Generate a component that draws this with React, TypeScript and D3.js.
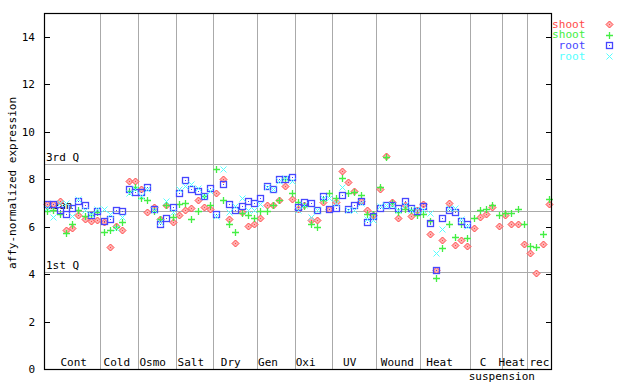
import React from "react";
import * as d3 from "d3";

const GROUPS = ["Cont", "Cold", "Osmo", "Salt", "Dry", "Gen", "Oxi", "UV", "Wound", "Heat", "C", "Heat", "rec"];
const GROUP_SIZES = [9, 6, 6, 6, 7, 6, 6, 7, 7, 8, 5, 4, 4];
const LABEL_DX = [1.5, -2.4, -4.2, -3.7, -4.5, -8, -8.1, -4.8, -1, -5.8, -3, -2.6, -0.1];
const Y_TICKS = [0, 2, 4, 6, 8, 10, 12, 14];
const Q3 = 8.65;
const Q1 = 4.1;
const MEAN = 6.64;

const _ = null;
// shoot (red diamond)
const shootA = [
  6.97, 6.97, 7.09, 5.87, 5.94, 6.47, 6.33, 6.23, 6.27,
  6.2, 5.14, 6.04, 5.85, 7.93, 7.93,
  7.6, 6.6, 6.83, 6.3, 6.93, 6.18,
  6.47, 6.72, 6.79, 7.11, 6.83, 6.76,
  7.42, 7.99, 6.3, 5.31, 6.6, 6.04, 6.13,
  6.37, 6.92, 6.9, 7.14, 7.7, 7.17,
  6.75, 6.89, 6.27, 6.27, 7.03, 6.75,
  7.03, 8.33, 7.89, 7.52, 7.07, 6.72, 6.47,
  7.6, 8.97, 7.04, 6.37, 6.93, 6.44, 6.72,
  6.97, 5.69, 4.18, 5.42, 7.0, 5.21, 5.45, 5.2,
  5.94, 6.41, 6.51, 6.83, 6.04,
  6.48, 6.11, 6.11, 5.27,
  4.89, 4.04, 5.27, 6.97,
];
// shoot (green plus)
const shootB = [
  6.65, 6.68, 6.55, 5.73, 6.11, 6.68, 6.44, 6.5, 6.6,
  5.76, 5.85, 5.99, 6.2, 7.5, 7.66,
  7.2, 7.11, 6.65, 6.3, 6.9, 6.4,
  6.95, 7.0, 6.33, 6.65, 7.28, 6.93,
  8.41, 7.11, 6.13, 5.78, 6.58, 6.47, 6.37,
  6.65, 6.65, 6.89, 7.11, 8.0, 7.4,
  7.04, 6.86, 6.09, 5.99, 7.11, 7.42,
  7.21, 8.06, 7.42, 7.45, 7.35, 6.51, 6.55,
  7.66, 8.93, 7.0, 6.61, 6.75, 6.72, 6.5,
  6.51, 6.23, 3.83, 5.1, 6.09, 5.57, 6.11, 5.52,
  6.37, 6.69, 6.75, 6.89, 6.47,
  6.58, 6.58, 6.75, 6.09,
  5.17, 5.13, 5.7, 7.17,
];
// root (blue square)
const rootA = [
  6.97, 6.97, 6.68, 6.55, 6.79, 7.07, 6.89, 6.47, 6.65,
  6.25, 6.3, 6.72, 6.65, 7.6, 7.47,
  7.45, 7.68, 6.75, 6.09, 6.37, 6.83,
  7.4, 7.95, 7.6, 7.5, 7.31, 7.64,
  6.51, 7.8, 6.96, 6.69, 6.86, 7.09, 7.0,
  7.21, 7.7, 7.6, 7.99, 7.99, 8.1,
  6.82, 7.04, 7.0, 6.68, 7.28, 6.75,
  6.79, 7.35, 6.75, 6.93, 7.07, 6.18, 6.44,
  6.79, 6.89, 6.89, 6.79, 7.07, 6.79, 6.65,
  6.86, 6.16, 4.18, 6.37, 6.69, 6.61, 6.23, 6.11,
  _, _, _, _, _,
  _, _, _, _,
  _, _, _, _,
];
// root (cyan cross)
const rootB = [
  6.8, 6.41, 7.0, 7.0, 6.44, 7.17, 6.7, 6.55, 6.75,
  6.75, 6.51, 5.94, 6.41, 7.42, 7.6,
  7.3, 7.6, 6.7, 6.2, 7.07, 6.6,
  7.57, 7.7, 7.78, 7.64, 7.3, 7.5,
  6.44, 8.41, 6.61, 6.86, 7.21, 6.69, 6.69,
  6.97, 7.66, 7.6, 7.92, 8.06, 7.92,
  6.68, 6.9, 6.41, 6.68, 7.2, 7.2,
  7.0, 7.68, 6.72, 6.72, 7.0, 6.33, 6.27,
  6.85, 6.89, 6.9, 6.72, 6.9, 6.72, 6.75,
  6.7, 6.58, 4.89, 5.9, 6.8, 6.79, 6.3, 6.01,
  _, _, _, _, _,
  _, _, _, _,
  _, _, _, _,
];

const RED = "#ff4a4a";
const GREEN = "#44ee44";
const BLUE = "#4646ff";
const CYAN = "#55ffff";
const GRID = "#aaaaaa";
const FONT = "'DejaVu Sans Mono', monospace";

export default function App() {
  const W = 640, H = 384;
  const left = 44, right = 552, top = 13, bottom = 369;
  const total = d3.sum(GROUP_SIZES);
  const x = d3.scaleLinear().domain([0, total]).range([left, right]);
  const y = d3.scaleLinear().domain([0, 15]).range([bottom, top]);
  const bounds = d3.cumsum(GROUP_SIZES);
  const starts = [0, ...Array.from(bounds).slice(0, -1)];

  const pts = (arr: (number | null)[]) =>
    arr.map((v, i) => (v == null ? null : { cx: Math.round(x(i + 0.5)) + 0.5, cy: Math.round(y(v)) + 0.5 })).filter(Boolean) as { cx: number; cy: number }[];

  const diamonds = pts(shootA);
  const pluses = pts(shootB);
  const squares = pts(rootA);
  const crosses = pts(rootB);

  const legend = [
    { label: "shoot", color: RED, kind: "d", x: 552 },
    { label: "shoot", color: GREEN, kind: "p", x: 552 },
    { label: "root", color: BLUE, kind: "s", x: 558.6 },
    { label: "root", color: CYAN, kind: "x", x: 558.6 },
  ];

  const marker = (kind: string, cx: number, cy: number, color: string, key: any) => {
    if (kind === "d")
      return (
        <g key={key}>
          <path d={`M${cx},${cy - 3.5}L${cx + 3.5},${cy}L${cx},${cy + 3.5}L${cx - 3.5},${cy}Z`} fill="#ffb0b0" stroke={color} strokeWidth={1} />
          <rect x={cx - 0.5} y={cy - 0.5} width={1} height={1} fill={color} />
        </g>
      );
    if (kind === "p")
      return (
        <path key={key} d={`M${cx - 3.5},${cy}H${cx + 3.5}M${cx},${cy - 3.5}V${cy + 3.5}`} stroke={color} strokeWidth={1.3} fill="none" />
      );
    if (kind === "s")
      return (
        <g key={key}>
          <rect x={cx - 3} y={cy - 3} width={6} height={6} fill="none" stroke={color} strokeWidth={1.3} />
          <rect x={cx - 0.5} y={cy - 0.5} width={1} height={1} fill={color} />
        </g>
      );
    return (
      <path key={key} d={`M${cx - 3},${cy - 3}L${cx + 3},${cy + 3}M${cx - 3},${cy + 3}L${cx + 3},${cy - 3}`} stroke={color} strokeWidth={1} fill="none" />
    );
  };

  return (
    <svg width={W} height={H} style={{ position: "absolute", left: 0, top: 0, background: "#fff" }} fontFamily={FONT}>
      <rect width={W} height={H} fill="#fff" />
      {/* group separators */}
      {Array.from(bounds).slice(0, -1).map((b, i) => (
        <line key={"sep" + i} x1={Math.round(x(b)) + 0.5} x2={Math.round(x(b)) + 0.5} y1={top} y2={bottom} stroke={GRID} strokeWidth={1} />
      ))}
      {/* quartile lines */}
      {[Q3, MEAN, Q1].map((q, i) => (
        <line key={"q" + i} x1={left} x2={right} y1={Math.round(y(q)) + 0.5} y2={Math.round(y(q)) + 0.5} stroke={GRID} strokeWidth={1} />
      ))}
      <text x={46} y={y(Q3) - 3} fontSize={11} fill="#000">3rd Q</text>
      <text x={46} y={y(MEAN) - 2} fontSize={11} fill="#000">mean</text>
      <text x={46} y={y(Q1) - 3} fontSize={11} fill="#000">1st Q</text>

      {/* points */}
      {diamonds.map((p, i) => marker("d", p.cx, p.cy, RED, "d" + i))}
      {pluses.map((p, i) => marker("p", p.cx, p.cy, GREEN, "p" + i))}
      {squares.map((p, i) => marker("s", p.cx, p.cy, BLUE, "s" + i))}
      {crosses.map((p, i) => marker("x", p.cx, p.cy, CYAN, "x" + i))}

      {/* frame */}
      <rect x={left + 0.5} y={top + 0.5} width={right - left - 1} height={bottom - top} fill="none" stroke="#000" strokeWidth={1.2} />
      {Y_TICKS.map((t) => (
        <g key={"t" + t}>
          <line x1={left} x2={left + 6} y1={Math.round(y(t)) + 0.5} y2={Math.round(y(t)) + 0.5} stroke="#000" />
          <line x1={right - 6} x2={right} y1={Math.round(y(t)) + 0.5} y2={Math.round(y(t)) + 0.5} stroke="#000" />
          <text x={35} y={y(t) + 4} fontSize={11} textAnchor="end" fill="#000">{t}</text>
        </g>
      ))}
      {/* group labels */}
      {GROUPS.map((g, i) => (
        <text key={"g" + i} x={x(starts[i] + GROUP_SIZES[i] / 2) + LABEL_DX[i]} y={366} fontSize={11} textAnchor="middle" fill="#000">{g}</text>
      ))}
      <text x={501.8} y={380} fontSize={11} textAnchor="middle" fill="#000">suspension</text>
      <text transform={`translate(15.5,183) rotate(-90)`} fontSize={11} textAnchor="middle" fill="#000">affy-normalized expression</text>

      {/* legend */}
      {legend.map((l, i) => (
        <g key={"l" + i}>
          <text x={l.x} y={27.5 + i * 10.7} fontSize={10} textLength={l.label.length * 6.7} lengthAdjust="spacingAndGlyphs" fill={l.color}>{l.label}</text>
          {marker(l.kind, 609.5, Math.round(24 + i * 10.7) + 0.5, l.color, "lm" + i)}
        </g>
      ))}
    </svg>
  );
}
